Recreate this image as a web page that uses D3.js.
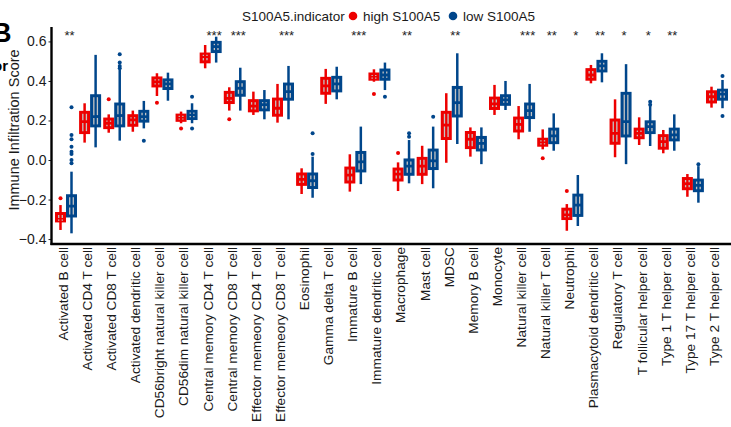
<!DOCTYPE html>
<html lang="en">
<head>
    <meta charset="UTF-8">
    <title>Immune Infiltration Score by S100A5</title>
    <script src="https://d3js.org/d3.v7.min.js"></script>
    <style>
        body { margin: 0; background: #fff; }
        text { font-family: "Liberation Sans", Arial, sans-serif; }
    </style>
</head>
<body>
    <div id="chart"></div>
    <script>
        const categories = [
            "Activated B cell", "Activated CD4 T cell", "Activated CD8 T cell", "Activated dendritic cell",
            "CD56bright natural killer cell", "CD56dim natural killer cell", "Central memory CD4 T cell",
            "Central memory CD8 T cell", "Effector memeory CD4 T cell", "Effector memeory CD8 T cell",
            "Eosinophil", "Gamma delta T cell", "Immature  B cell", "Immature dendritic cell", "Macrophage",
            "Mast cell", "MDSC", "Memory B cell", "Monocyte", "Natural killer cell", "Natural killer T cell",
            "Neutrophil", "Plasmacytoid dendritic cell", "Regulatory T cell", "T follicular helper cell",
            "Type 1 T helper cell", "Type 17 T helper cell", "Type 2 T helper cell"
        ];

        const seriesNames = ["high S100A5", "low S100A5"];

        const significance = ["**", "", "", "", "", "", "***", "***", "", "***", "", "", "***", "",
            "**", "", "**", "", "", "***", "**", "*", "**", "*", "*", "**", "", ""];

        // [lower whisker, q1, median, q3, upper whisker]
        const highStats = [
            [-0.354, -0.312, -0.300, -0.267, -0.228], [0.088, 0.135, 0.194, 0.245, 0.287],
            [0.138, 0.160, 0.186, 0.211, 0.231], [0.143, 0.172, 0.203, 0.228, 0.250],
            [0.324, 0.371, 0.396, 0.419, 0.439], [0.186, 0.197, 0.214, 0.231, 0.245],
            [0.464, 0.493, 0.523, 0.540, 0.582], [0.250, 0.287, 0.312, 0.346, 0.368],
            [0.228, 0.245, 0.273, 0.304, 0.346], [0.189, 0.223, 0.262, 0.312, 0.385],
            [-0.172, -0.127, -0.098, -0.067, -0.042], [0.284, 0.334, 0.375, 0.417, 0.461],
            [-0.160, -0.115, -0.076, -0.037, 0.029], [0.396, 0.405, 0.420, 0.439, 0.459],
            [-0.157, -0.105, -0.071, -0.042, -0.012], [-0.122, -0.076, -0.031, 0.012, 0.072],
            [-0.014, 0.105, 0.177, 0.245, 0.338], [0.017, 0.059, 0.105, 0.143, 0.165],
            [0.228, 0.257, 0.284, 0.317, 0.380], [0.105, 0.143, 0.180, 0.216, 0.273],
            [0.054, 0.071, 0.089, 0.109, 0.155], [-0.358, -0.300, -0.278, -0.245, -0.223],
            [0.388, 0.405, 0.430, 0.461, 0.481], [0.014, 0.081, 0.135, 0.206, 0.307],
            [0.076, 0.109, 0.135, 0.160, 0.216], [0.034, 0.056, 0.093, 0.127, 0.152],
            [-0.186, -0.149, -0.120, -0.090, -0.071], [0.265, 0.290, 0.320, 0.349, 0.371]
        ];

        const lowStats = [
            [-0.371, -0.287, -0.233, -0.177, -0.059], [0.064, 0.169, 0.220, 0.329, 0.532],
            [0.098, 0.169, 0.225, 0.287, 0.456], [0.160, 0.193, 0.219, 0.250, 0.299],
            [0.300, 0.358, 0.385, 0.409, 0.442], [0.186, 0.206, 0.228, 0.250, 0.287],
            [0.493, 0.545, 0.574, 0.599, 0.624], [0.250, 0.324, 0.363, 0.400, 0.467],
            [0.206, 0.250, 0.280, 0.304, 0.354], [0.206, 0.304, 0.346, 0.388, 0.476],
            [-0.191, -0.143, -0.105, -0.067, 0.017], [0.307, 0.346, 0.385, 0.422, 0.472],
            [-0.122, -0.059, -0.009, 0.042, 0.169], [0.354, 0.405, 0.430, 0.459, 0.493],
            [-0.118, -0.076, -0.031, 0.004, 0.101], [-0.143, -0.047, -0.004, 0.054, 0.169],
            [0.081, 0.219, 0.290, 0.371, 0.540], [-0.021, 0.047, 0.084, 0.118, 0.165],
            [0.253, 0.278, 0.304, 0.329, 0.400], [0.143, 0.211, 0.250, 0.287, 0.385],
            [0.047, 0.084, 0.122, 0.160, 0.236], [-0.334, -0.284, -0.228, -0.174, -0.076],
            [0.393, 0.447, 0.476, 0.503, 0.540], [-0.021, 0.118, 0.194, 0.341, 0.485],
            [0.071, 0.135, 0.169, 0.197, 0.273], [0.047, 0.098, 0.127, 0.160, 0.231],
            [-0.216, -0.159, -0.128, -0.098, -0.031], [0.262, 0.304, 0.334, 0.357, 0.405]
        ];

        const highOutliers = [
            [-0.194], [], [0.307], [], [0.290], [0.160], [], [0.206], [], [], [], [], [], [0.334],
            [0.035], [], [], [], [], [], [0.009], [-0.157], [], [], [], [], [], []
        ];

        const lowOutliers = [
            [0.267, 0.127, 0.105, 0.067, 0.042, 0.030, 0.000, -0.017], [], [0.535, 0.493, 0.476, 0.464],
            [0.098], [], [0.320, 0.160], [], [], [], [], [0.135, 0.030], [], [], [0.320],
            [0.135, 0.118], [0.219], [], [], [], [], [], [], [], [], [0.295, 0.279], [], [-0.021], [0.425, 0.223]
        ];

        const yTicks = [-0.4, -0.2, 0.0, 0.2, 0.4, 0.6];

        const colors = { "high S100A5": "#ED0000", "low S100A5": "#00468B" };

        const width = 731;
        const height = 427;

        const svg = d3.select("#chart").append("svg")
            .attr("width", width)
            .attr("height", height);

        const y = d3.scaleLinear()
            .domain([-0.425, 0.673])
            .range([244, 27]);

        const x = d3.scalePoint()
            .domain(categories)
            .range([66, 717]);

        // dodge the two groups inside each category
        const dodge = d3.scaleBand()
            .domain(seriesNames)
            .range([-11, 11]);

        const boxW = dodge.bandwidth();

        // panel letter and cut-off text on the far left
        svg.append("text")
            .attr("x", -8).attr("y", 42)
            .style("font-size", "27px").style("font-weight", "bold")
            .text("B");
        svg.append("text")
            .attr("x", 8).attr("y", 71)
            .attr("text-anchor", "end")
            .style("font-size", "15px").style("font-weight", "bold")
            .text("or");

        // y axis
        const yAxis = svg.append("g")
            .attr("transform", "translate(51.5,0)")
            .call(d3.axisLeft(y).tickValues(yTicks).tickSize(3).tickPadding(2).tickFormat(d3.format(".1f")));
        yAxis.select(".domain").remove();
        yAxis.selectAll("text").style("font-size", "14px").style("fill", "#1a1a1a");
        yAxis.selectAll(".tick line").attr("stroke", "#222");

        svg.append("text")
            .attr("transform", "translate(18.5,130) rotate(-90)")
            .attr("text-anchor", "middle")
            .style("font-size", "14.5px")
            .style("fill", "#1a1a1a")
            .text("Immune Infiltration Score");

        // x labels
        const xAxis = svg.append("g")
            .attr("transform", "translate(0,244)")
            .call(d3.axisBottom(x).tickSize(0).tickPadding(0));
        xAxis.select(".domain").remove();
        xAxis.selectAll("text")
            .attr("transform", "rotate(-90)")
            .attr("x", -3)
            .attr("y", 0)
            .attr("dy", "0.1em")
            .attr("text-anchor", "end")
            .style("font-size", "13.7px")
            .style("fill", "#1a1a1a");

        // boxes
        const groups = [];
        categories.forEach((c, i) => {
            groups.push({ cat: c, series: seriesNames[0], s: highStats[i], out: highOutliers[i] });
            groups.push({ cat: c, series: seriesNames[1], s: lowStats[i], out: lowOutliers[i] });
        });

        const box = svg.append("g").selectAll("g")
            .data(groups)
            .enter().append("g")
            .attr("transform", d => `translate(${x(d.cat) + dodge(d.series) + boxW / 2},0)`);

        box.append("line")
            .attr("y1", d => y(d.s[0])).attr("y2", d => y(d.s[4]))
            .attr("stroke", d => colors[d.series])
            .attr("stroke-width", 2.5);

        box.append("rect")
            .attr("x", -boxW / 2 + 0.75)
            .attr("width", boxW - 1.5)
            .attr("y", d => y(d.s[3]))
            .attr("height", d => Math.max(1, y(d.s[1]) - y(d.s[3])))
            .attr("fill", d => colors[d.series])
            .attr("stroke", d => colors[d.series])
            .attr("stroke-width", 1.5);

        // light stripes inside the box, broken at the median
        box.each(function (d) {
            const g = d3.select(this);
            const top = y(d.s[3]) + 2.2, bot = y(d.s[1]) - 2.2, med = y(d.s[2]);
            const segs = [[top, med - 1.4], [med + 1.4, bot]];
            [-1.8, 1.8].forEach(dx => {
                segs.forEach(([a, b]) => {
                    if (b - a < 1.1) {
                        const m = (a + b) / 2;
                        a = m - 0.6; b = m + 0.6;
                    }
                    g.append("line")
                        .attr("x1", dx).attr("x2", dx)
                        .attr("y1", a).attr("y2", b)
                        .attr("stroke", "#c4c4c4")
                        .attr("stroke-width", 1.3);
                });
            });
        });

        box.selectAll("circle")
            .data(d => d.out.map(v => ({ v, series: d.series })))
            .enter().append("circle")
            .attr("cx", 0)
            .attr("cy", d => y(d.v))
            .attr("r", 2)
            .attr("fill", d => colors[d.series]);

        // axis lines
        svg.append("line")
            .attr("x1", 51.5).attr("x2", 51.5)
            .attr("y1", 27).attr("y2", 245)
            .attr("stroke", "#000").attr("stroke-width", 2.4);
        svg.append("line")
            .attr("x1", 50.5).attr("x2", width)
            .attr("y1", 244).attr("y2", 244)
            .attr("stroke", "#000").attr("stroke-width", 2.6);

        // significance stars
        svg.append("g").selectAll("text")
            .data(categories)
            .enter().append("text")
            .attr("x", d => x(d) + 3.5)
            .attr("y", 40)
            .attr("text-anchor", "middle")
            .style("font-size", "13px")
            .style("fill", "#222")
            .text((d, i) => significance[i]);

        // legend
        const legend = svg.append("g");
        legend.append("text")
            .attr("x", 242).attr("y", 21)
            .style("font-size", "13.5px")
            .style("fill", "#1a1a1a")
            .text("S100A5.indicator");
        const legendX = [353, 453];
        seriesNames.forEach((s, i) => {
            legend.append("circle")
                .attr("cx", legendX[i]).attr("cy", 16)
                .attr("r", 4.3)
                .attr("fill", colors[s]);
            legend.append("text")
                .attr("x", legendX[i] + 10).attr("y", 21)
                .style("font-size", "13.5px")
                .style("fill", "#1a1a1a")
                .text(s);
        });
    </script>
</body>
</html>
